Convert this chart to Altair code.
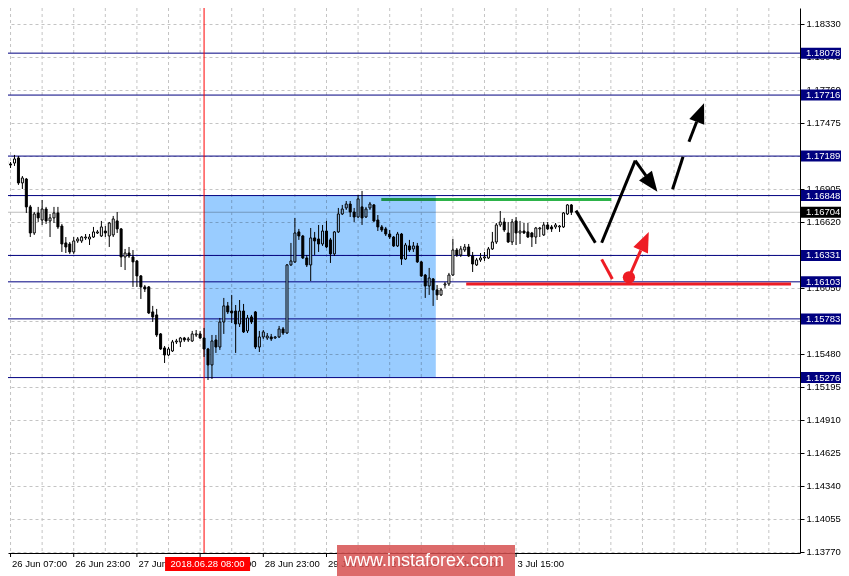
import altair as alt
import pandas as pd

# ---------------- data (EUR/USD H1) ----------------
first_index = -1  # index 0 = 26 Jun 07:00
opens = [1.17147, 1.17121, 1.17129, 1.17173, 1.16957, 1.16991, 1.16750, 1.16525, 1.16698, 1.16637,
         1.16732, 1.16629, 1.16655, 1.16698, 1.16585, 1.16439, 1.16430, 1.16361, 1.16456, 1.16456,
         1.16482, 1.16473, 1.16490, 1.16525, 1.16499, 1.16542, 1.16499, 1.16508, 1.16629, 1.16560,
         1.16318, 1.16352, 1.16318, 1.16283, 1.16154, 1.16059, 1.16059, 1.15843, 1.15817, 1.15653,
         1.15532, 1.15471, 1.15506, 1.15584, 1.15584, 1.15618, 1.15601, 1.15592, 1.15644, 1.15653,
         1.15618, 1.15523, 1.15385, 1.15601, 1.15540, 1.15756, 1.15895, 1.15851, 1.15851, 1.15739,
         1.15851, 1.15679, 1.15800, 1.15843, 1.15540, 1.15627, 1.15618, 1.15627, 1.15618, 1.15627,
         1.15696, 1.15661, 1.16249, 1.16275, 1.16534, 1.16499, 1.16309, 1.16249, 1.16482, 1.16473,
         1.16430, 1.16542, 1.16465, 1.16344, 1.16534, 1.16689, 1.16741, 1.16775, 1.16706, 1.16663,
         1.16750, 1.16663, 1.16741, 1.16767, 1.16637, 1.16577, 1.16560, 1.16516, 1.16490, 1.16413,
         1.16516, 1.16300, 1.16413, 1.16387, 1.16413, 1.16275, 1.16162, 1.16067, 1.16128, 1.16033,
         1.15990, 1.16076, 1.16085, 1.16162, 1.16378, 1.16335, 1.16378, 1.16404, 1.16326, 1.16249,
         1.16292, 1.16309, 1.16309, 1.16387, 1.16447, 1.16594, 1.16620, 1.16525, 1.16447, 1.16629,
         1.16525, 1.16542, 1.16534, 1.16525, 1.16490, 1.16560, 1.16508, 1.16594, 1.16577, 1.16577,
         1.16577, 1.16577, 1.16689, 1.16767]
highs = [1.17173, 1.17138, 1.17199, 1.17190, 1.17017, 1.17000, 1.16767, 1.16706, 1.16750, 1.16810,
         1.16750, 1.16689, 1.16750, 1.16750, 1.16603, 1.16490, 1.16447, 1.16490, 1.16490, 1.16499,
         1.16516, 1.16516, 1.16577, 1.16551, 1.16629, 1.16585, 1.16620, 1.16672, 1.16706, 1.16568,
         1.16387, 1.16404, 1.16378, 1.16292, 1.16162, 1.16076, 1.16067, 1.15895, 1.15869, 1.15661,
         1.15549, 1.15540, 1.15601, 1.15610, 1.15627, 1.15627, 1.15627, 1.15679, 1.15687, 1.15679,
         1.15705, 1.15532, 1.15644, 1.15644, 1.15791, 1.15964, 1.15929, 1.15990, 1.15903, 1.15946,
         1.15912, 1.15817, 1.15817, 1.15851, 1.15679, 1.15687, 1.15661, 1.15653, 1.15635, 1.15722,
         1.15713, 1.16257, 1.16439, 1.16655, 1.16560, 1.16508, 1.16335, 1.16568, 1.16534, 1.16594,
         1.16594, 1.16629, 1.16482, 1.16542, 1.16741, 1.16767, 1.16801, 1.16801, 1.16741, 1.16853,
         1.16888, 1.16750, 1.16793, 1.16775, 1.16680, 1.16594, 1.16577, 1.16551, 1.16499, 1.16534,
         1.16525, 1.16439, 1.16465, 1.16447, 1.16439, 1.16283, 1.16171, 1.16223, 1.16136, 1.16076,
         1.16050, 1.16102, 1.16180, 1.16473, 1.16395, 1.16413, 1.16430, 1.16430, 1.16361, 1.16309,
         1.16352, 1.16361, 1.16404, 1.16534, 1.16611, 1.16715, 1.16655, 1.16620, 1.16646, 1.16663,
         1.16629, 1.16611, 1.16611, 1.16534, 1.16577, 1.16577, 1.16620, 1.16620, 1.16594, 1.16611,
         1.16594, 1.16706, 1.16775, 1.16775]
lows = [1.17104, 1.17086, 1.17104, 1.16940, 1.16905, 1.16698, 1.16490, 1.16508, 1.16620, 1.16594,
        1.16603, 1.16490, 1.16611, 1.16560, 1.16361, 1.16352, 1.16344, 1.16344, 1.16439, 1.16439,
        1.16465, 1.16421, 1.16482, 1.16516, 1.16490, 1.16490, 1.16404, 1.16490, 1.16525, 1.16231,
        1.16205, 1.16309, 1.16059, 1.16059, 1.15955, 1.16015, 1.15825, 1.15756, 1.15627, 1.15515,
        1.15402, 1.15463, 1.15497, 1.15566, 1.15540, 1.15584, 1.15584, 1.15584, 1.15627, 1.15610,
        1.15454, 1.15255, 1.15264, 1.15489, 1.15515, 1.15653, 1.15825, 1.15748, 1.15489, 1.15713,
        1.15661, 1.15661, 1.15739, 1.15523, 1.15497, 1.15610, 1.15601, 1.15592, 1.15610, 1.15618,
        1.15644, 1.15653, 1.16240, 1.16266, 1.16465, 1.16300, 1.16231, 1.16110, 1.16335, 1.16361,
        1.16413, 1.16395, 1.16266, 1.16326, 1.16525, 1.16680, 1.16724, 1.16663, 1.16620, 1.16655,
        1.16594, 1.16655, 1.16724, 1.16620, 1.16542, 1.16534, 1.16499, 1.16473, 1.16404, 1.16404,
        1.16249, 1.16292, 1.16361, 1.16361, 1.16266, 1.16145, 1.15964, 1.15990, 1.15895, 1.15946,
        1.15981, 1.16050, 1.16067, 1.16154, 1.16318, 1.16318, 1.16361, 1.16318, 1.16188, 1.16240,
        1.16275, 1.16283, 1.16300, 1.16378, 1.16430, 1.16577, 1.16534, 1.16439, 1.16421, 1.16421,
        1.16430, 1.16516, 1.16482, 1.16404, 1.16430, 1.16490, 1.16499, 1.16551, 1.16534, 1.16560,
        1.16534, 1.16568, 1.16680, 1.16680]
closes = [1.17121, 1.17112, 1.17164, 1.16957, 1.17000, 1.16750, 1.16525, 1.16689, 1.16655, 1.16732,
          1.16629, 1.16655, 1.16698, 1.16577, 1.16430, 1.16404, 1.16361, 1.16456, 1.16473, 1.16490,
          1.16490, 1.16490, 1.16534, 1.16534, 1.16577, 1.16525, 1.16611, 1.16646, 1.16560, 1.16318,
          1.16352, 1.16326, 1.16275, 1.16154, 1.16059, 1.16041, 1.15834, 1.15800, 1.15644, 1.15523,
          1.15471, 1.15523, 1.15584, 1.15592, 1.15618, 1.15601, 1.15610, 1.15653, 1.15653, 1.15618,
          1.15523, 1.15385, 1.15592, 1.15540, 1.15756, 1.15895, 1.15843, 1.15834, 1.15739, 1.15851,
          1.15670, 1.15791, 1.15756, 1.15540, 1.15627, 1.15670, 1.15635, 1.15610, 1.15627, 1.15696,
          1.15661, 1.16249, 1.16283, 1.16525, 1.16499, 1.16309, 1.16249, 1.16482, 1.16456, 1.16430,
          1.16542, 1.16404, 1.16344, 1.16534, 1.16689, 1.16732, 1.16775, 1.16706, 1.16663, 1.16819,
          1.16655, 1.16732, 1.16775, 1.16629, 1.16577, 1.16551, 1.16516, 1.16490, 1.16413, 1.16516,
          1.16300, 1.16421, 1.16378, 1.16413, 1.16275, 1.16154, 1.16067, 1.16136, 1.16033, 1.15990,
          1.16033, 1.16085, 1.16162, 1.16378, 1.16335, 1.16387, 1.16404, 1.16326, 1.16257, 1.16292,
          1.16309, 1.16318, 1.16387, 1.16447, 1.16594, 1.16620, 1.16551, 1.16447, 1.16620, 1.16525,
          1.16542, 1.16525, 1.16490, 1.16490, 1.16568, 1.16568, 1.16594, 1.16560, 1.16560, 1.16594,
          1.16585, 1.16698, 1.16767, 1.16704]

tick_index = [0, 16, 32, 48, 64, 80, 96, 112, 128]
tick_labels = ["26 Jun 07:00", "26 Jun 23:00", "27 Jun 15:00", "28 Jun 07:00", "28 Jun 23:00",
               "29 Jun 15:00", "2 Jul 07:00", "2 Jul 23:00", "3 Jul 15:00"]
grid_index = [0, 8, 16, 24, 32, 40, 48, 56, 64, 72, 80, 88, 96, 104, 112, 120, 128, 136, 144,
              152, 160, 168, 176, 184, 192]
y_ticks = [1.18330, 1.18045, 1.17760, 1.17475, 1.17190, 1.16905, 1.16620, 1.16335, 1.16050,
           1.15765, 1.15480, 1.15195, 1.14910, 1.14625, 1.14340, 1.14055, 1.13770]
levels = [1.18078, 1.17716, 1.17189, 1.16848, 1.16331, 1.16103, 1.15783, 1.15276]
current_price = 1.16704
crosshair_index = 49
crosshair_text = "2018.06.28 08:00"

# zone rectangle (index from/to, price top/bottom)
zone_k = [49.2, 107.8]
zone_p = [1.16848, 1.15276]

# drawn lines: start index, start price, end index, end price, colour
seg_x0 = [94.0, 115.5, 143.3, 149.8, 158.3, 167.75, 171.9, 149.8, 156.7]
seg_y0 = [1.16815, 1.16085, 1.16718, 1.16441, 1.17150, 1.16902, 1.17313, 1.16297, 1.16142]
seg_x1 = [152.25, 197.75, 148.2, 158.3, 161.0, 170.4, 173.85, 152.5, 159.7]
seg_y1 = [1.16815, 1.16085, 1.16441, 1.17150, 1.17021, 1.17184, 1.17485, 1.16128, 1.16375]
seg_col = ["#2DB34A", "#EE1C24", "black", "black", "black", "black", "black", "#EE1C24", "#EE1C24"]

head_x = [162.4, 174.8, 160.7]
head_y = [1.16951, 1.17565, 1.16455]
head_angle = [143.4, 21.3, 23.9]
head_col = ["black", "black", "#EE1C24"]

dot_x = [156.7]
dot_y = [1.16142]

# ---------------- tables ----------------
candles = pd.DataFrame({
    "k": list(range(first_index, first_index + len(opens))),
    "open": opens, "high": highs, "low": lows, "close": closes,
})
candles["dir"] = ["up" if c >= o else "down" for o, c in zip(opens, closes)]

W, H = 792, 545
FONT = "Liberation Sans"
xs = alt.Scale(domain=[0.75, 198.75], nice=False, zero=False)
ys = alt.Scale(domain=[1.13761, 1.18468], nice=False, zero=False)
xaxis = alt.Axis(title=None, labels=False, ticks=False, grid=False, domainColor="black",
                 domainWidth=1, zindex=0)
yaxis = alt.Axis(title=None, orient="right", values=y_ticks, format=".5f", labelFont=FONT,
                 labelFontSize=9.5, labelColor="black", tickColor="black", tickSize=4,
                 labelPadding=2, domainColor="black", grid=True, gridColor="#C4C4C4",
                 gridDash=[3, 3], labelOverlap=False, labelFlush=False, zindex=0)


def X(f):
    return alt.X(f, type="quantitative", scale=xs, axis=xaxis)


def Y(f):
    return alt.Y(f, type="quantitative", scale=ys, axis=yaxis)


vgrid = alt.Chart(pd.DataFrame({"k": grid_index})).mark_rule(
    color="#C4C4C4", strokeDash=[3, 3], xOffset=0.5).encode(x=X("k"))

level_lines = alt.Chart(pd.DataFrame({"p": levels})).mark_rule(color="#000080").encode(y=Y("p"))
price_line = alt.Chart(pd.DataFrame({"p": [current_price]})).mark_rule(color="#BDBDBD").encode(y=Y("p"))
cross = alt.Chart(pd.DataFrame({"k": [crosshair_index]})).mark_rule(
    color="#FF0000", xOffset=0.5).encode(x=X("k"))

wicks = alt.Chart(candles).mark_rule(color="black", xOffset=0.5).encode(
    x=X("k"), y=Y("low"), y2="high")
bodies = alt.Chart(candles).mark_bar(size=2, stroke="black", strokeWidth=1, xOffset=0.5).encode(
    x=X("k"), y=Y("open"), y2="close",
    color=alt.Color("dir:N", scale=alt.Scale(domain=["up", "down"], range=["white", "black"]),
                    legend=None))

segs = alt.Chart(pd.DataFrame({"x0": seg_x0, "y0": seg_y0, "x1": seg_x1, "y1": seg_y1,
                               "col": seg_col})).mark_rule(strokeWidth=3).encode(
    x=X("x0"), x2="x1", y=Y("y0"), y2="y1", color=alt.Color("col:N", scale=None))

heads = alt.Chart(pd.DataFrame({"k": head_x, "p": head_y, "ang": head_angle, "col": head_col})).mark_point(
    shape="M0,-1L0.8,1L-0.8,1Z", filled=True, size=400, opacity=1, strokeWidth=0).encode(
    x=X("k"), y=Y("p"), angle=alt.Angle("ang:Q", scale=None), color=alt.Color("col:N", scale=None))

dots = alt.Chart(pd.DataFrame({"k": dot_x, "p": dot_y})).mark_point(
    shape="circle", filled=True, size=150, opacity=1, color="#EE1C24", strokeWidth=0).encode(
    x=X("k"), y=Y("p"))

zone = alt.Chart(pd.DataFrame({"k0": [zone_k[0]], "k1": [zone_k[1]], "p0": [zone_p[0]],
                               "p1": [zone_p[1]]})).mark_rect(
    color="#99CCFF", blend="multiply", opacity=1).encode(
    x=X("k0"), x2="k1", y=Y("p0"), y2="p1")

xticks = alt.Chart(pd.DataFrame({"k": tick_index})).mark_rule(color="black", xOffset=0.5).encode(
    x=X("k"), y=alt.value(H), y2=alt.value(H + 4))
xlabels = alt.Chart(pd.DataFrame({"k": tick_index, "label": tick_labels})).mark_text(
    align="left", baseline="middle", dx=2, font=FONT, fontSize=9.5, color="black").encode(
    x=X("k"), y=alt.value(H + 11), text="label:N")

date_df = pd.DataFrame({"k": [crosshair_index], "t": [crosshair_text]})
date_box = alt.Chart(date_df).mark_tick(orient="horizontal", size=85, thickness=14, color="#FF0000",
                                        opacity=1, xOffset=4).encode(x=X("k"), y=alt.value(H + 11))
date_txt = alt.Chart(date_df).mark_text(align="center", baseline="middle", font=FONT, fontSize=9.5,
                                        color="white", xOffset=4).encode(
    x=X("k"), y=alt.value(H + 11), text="t:N")

box_df = pd.DataFrame({"p": levels + [current_price],
                       "bg": ["#000080"] * len(levels) + ["black"]})
boxes = alt.Chart(box_df).mark_tick(orient="horizontal", size=40, thickness=11, opacity=1).encode(
    x=alt.value(W + 21), y=Y("p"), color=alt.Color("bg:N", scale=None))
box_txt = alt.Chart(box_df).mark_text(align="left", baseline="middle", font=FONT, fontSize=9.5,
                                      color="white").encode(
    x=alt.value(W + 6), y=Y("p"), text=alt.Text("p:Q", format=".5f"))

wm_df = pd.DataFrame({"t": ["www.instaforex.com"]})
wm_box = alt.Chart(wm_df).mark_tick(orient="horizontal", size=178, thickness=31, color="#D65050",
                                    opacity=0.85).encode(x=alt.value(418), y=alt.value(552.5))
wm_txt = alt.Chart(wm_df).mark_text(align="center", baseline="middle", font=FONT, fontSize=18,
                                    color="white").encode(x=alt.value(416), y=alt.value(553), text="t:N")

chart = alt.layer(
    vgrid, level_lines, price_line, cross, wicks, bodies, segs, heads, dots, zone,
    xticks, xlabels, date_box, date_txt, boxes, box_txt, wm_box, wm_txt
).properties(
    width=W, height=H,
    autosize=alt.AutoSizeParams(type="none"),
    padding={"left": 0, "top": 0, "right": 41, "bottom": 23},
).configure(background="white").configure_view(stroke=None)

chart.save("out.html", embed_options={"renderer": "svg", "actions": False})
